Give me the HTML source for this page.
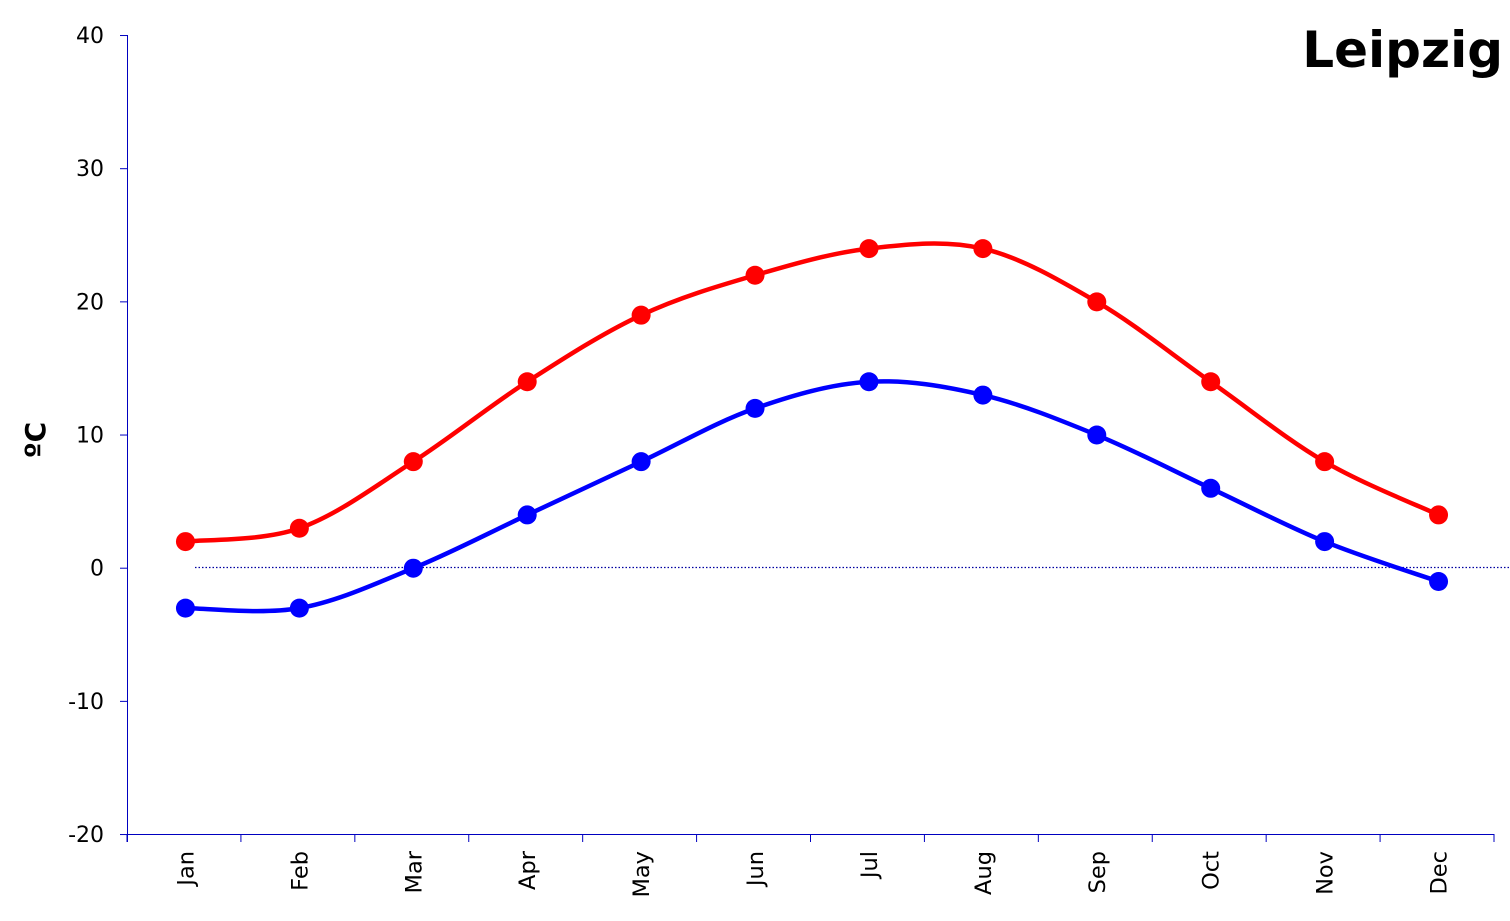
<!DOCTYPE html>
<html><head><meta charset="utf-8"><style>
html,body{margin:0;padding:0;background:#fff;}
svg{display:block;font-family:"DejaVu Sans","Liberation Sans",sans-serif;}
</style></head><body>
<svg id="c" width="1510" height="921" xmlns="http://www.w3.org/2000/svg">
<g stroke="#0000c0" stroke-width="1" fill="none">
<line x1="127.5" y1="35" x2="127.5" y2="842"/>
<line x1="127" y1="834.5" x2="1494" y2="834.5"/>
</g>
<g id="yt" font-size="22" text-anchor="end" fill="#000"></g>
<g id="xt" font-size="22.5" fill="#000"></g>
<line x1="195" y1="567.5" x2="1510" y2="567.5" stroke="#0000a0" stroke-width="1.3" stroke-dasharray="1.5,2"/>
<text x="45" y="440" font-size="28" font-weight="bold" transform="rotate(-90 45 440)" text-anchor="middle">ºC</text>
<text x="1503" y="67" font-size="50" font-weight="bold" text-anchor="end">Leipzig</text>
<g id="series"></g>
</svg>
<script>
var ns="http://www.w3.org/2000/svg";
function el(t,a,p){var e=document.createElementNS(ns,t);for(var k in a)e.setAttribute(k,a[k]);p.appendChild(e);return e;}
var yt=document.getElementById('yt'),xt=document.getElementById('xt'),ax=document.getElementById('c');
function Y(v){return 568.2-13.317*v;}
for(var v=-20;v<=40;v+=10){var y=Y(v);el('line',{x1:120,x2:127,y1:y,y2:y,stroke:'#0000c0'},ax);var t=el('text',{x:104,y:y+7.5},yt);t.textContent=v;}
var m=['Jan','Feb','Mar','Apr','May','Jun','Jul','Aug','Sep','Oct','Nov','Dec'];
var w=(1494-127)/12;
for(var i=0;i<=12;i++){var x=127+i*w;el('line',{x1:x,x2:x,y1:834,y2:842,stroke:'#0000c0'},ax);}
for(var i=0;i<12;i++){var x=128.5+w*(i+0.5);var t=el('text',{x:0,y:0,transform:'translate('+(x+8)+' 851) rotate(-90)','text-anchor':'end'},xt);t.textContent=m[i];}
var S=document.getElementById('series');
function draw(d,c){var p=d.map(function(v,i){return [128.5+w*(i+0.5),Y(v)];});
var s='M'+p[0][0]+' '+p[0][1];
for(var i=0;i<p.length-1;i++){var a=p[Math.max(i-1,0)],b=p[i],cc=p[i+1],dd=p[Math.min(i+2,p.length-1)];
s+=' C'+(b[0]+(cc[0]-a[0])/6)+' '+(b[1]+(cc[1]-a[1])/6)+' '+(cc[0]-(dd[0]-b[0])/6)+' '+(cc[1]-(dd[1]-b[1])/6)+' '+cc[0]+' '+cc[1];}
el('path',{d:s,stroke:c,'stroke-width':4.5,fill:'none'},S);
p.forEach(function(q){el('circle',{cx:q[0],cy:q[1],r:9.5,fill:c},S);});}
draw([2,3,8,14,19,22,24,24,20,14,8,4],'#ff0000');
draw([-3,-3,0,4,8,12,14,13,10,6,2,-1],'#0000ff');
</script>
</body></html>
